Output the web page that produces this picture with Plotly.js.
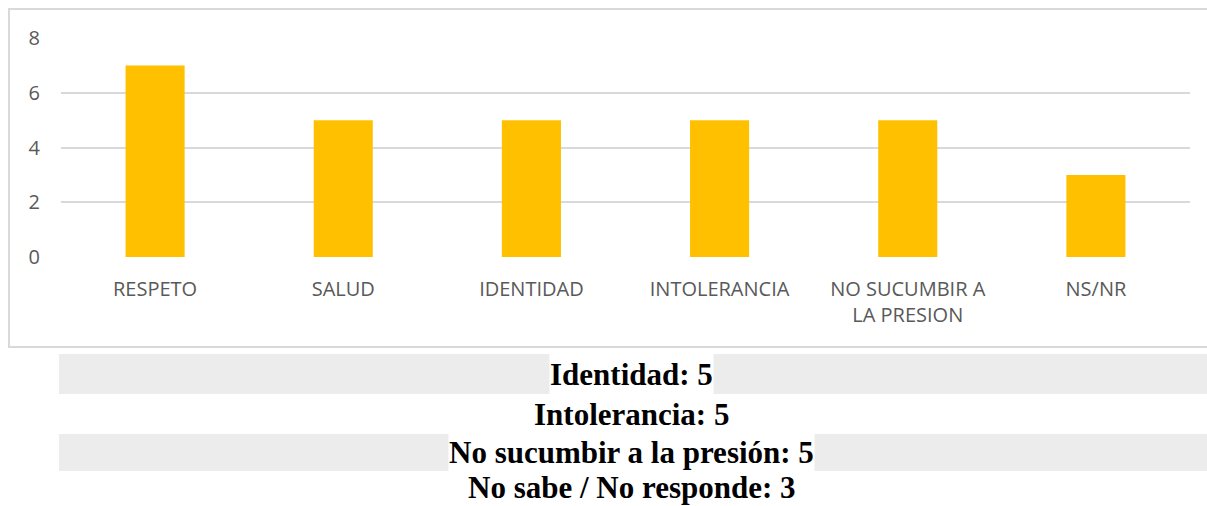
<!DOCTYPE html>
<html>
<head>
<meta charset="utf-8">
<script src="https://cdn.plot.ly/plotly-3.0.1.min.js"></script>
<style>html,body{margin:0;padding:0;background:#fff;}#chart{width:1207px;height:506px;}</style>
</head>
<body>
<div id="chart"></div>
<script>
const categories = ["RESPETO", "SALUD", "IDENTIDAD", "INTOLERANCIA", "NO SUCUMBIR A<br>LA PRESION", "NS/NR"];
const values = [7, 5, 5, 5, 5, 3];
const yTicks = [0, 2, 4, 6, 8];
const summaryLines = ["Identidad: 5", "Intolerancia: 5", "No sucumbir a la presión: 5", "No sabe / No responde: 3"];

const W = 1207, H = 506;
const px = x => x / W;
const py = y => 1 - y / H;

const bandRows = [[354, 394], [434, 471]];
const lineCenters = [374, 414, 452.5, 487];
const lineBg = [true, false, true, false];
const lineHeights = [40, 0, 37, 0];

const shapes = [
  {type: 'rect', xref: 'paper', yref: 'paper', x0: px(9), x1: px(1215), y0: py(347), y1: py(9),
   line: {color: '#d9d9d9', width: 2}, fillcolor: 'rgba(0,0,0,0)', layer: 'below'}
];
bandRows.forEach(r => shapes.push({type: 'rect', xref: 'paper', yref: 'paper', x0: px(59), x1: px(1207),
  y0: py(r[1]), y1: py(r[0]), line: {width: 0}, fillcolor: '#ececec', layer: 'below'}));

const annotations = summaryLines.map((t, i) => {
  const a = {text: '<b>' + t + '</b>', xref: 'paper', yref: 'paper', x: px(632), y: py(lineCenters[i]),
    xanchor: 'center', yanchor: 'middle', showarrow: false,
    font: {family: 'Liberation Serif, Times New Roman, serif', size: 31, color: '#000'}, borderpad: 0};
  if (lineBg[i]) { a.bgcolor = '#ffffff'; a.height = lineHeights[i]; }
  return a;
});

const data = [{
  type: 'bar', x: categories, y: values, marker: {color: '#FFC000'}, hoverinfo: 'skip'
}];

const layout = {
  width: W, height: H,
  margin: {l: 0, r: 0, t: 0, b: 0},
  paper_bgcolor: '#fff', plot_bgcolor: '#fff',
  showlegend: false,
  bargap: 0.686,
  font: {family: 'Open Sans, sans-serif', color: '#595959', size: 20},
  xaxis: {domain: [px(61), px(1190)], type: 'category', showgrid: false, zeroline: false,
    showline: false, ticks: '', tickfont: {size: 20, color: '#595959'}, ticklabelstandoff: 18,
    fixedrange: true},
  yaxis: {domain: [py(257), py(38)], range: [0, 8], tickvals: yTicks, showgrid: true,
    gridcolor: '#d9d9d9', gridwidth: 2, zeroline: false, showline: false, ticks: '',
    tickfont: {size: 20, color: '#595959'}, ticklabelstandoff: 20, fixedrange: true},
  shapes: shapes,
  annotations: annotations
};

Plotly.newPlot('chart', data, layout, {displayModeBar: false, staticPlot: true});
</script>
</body>
</html>
